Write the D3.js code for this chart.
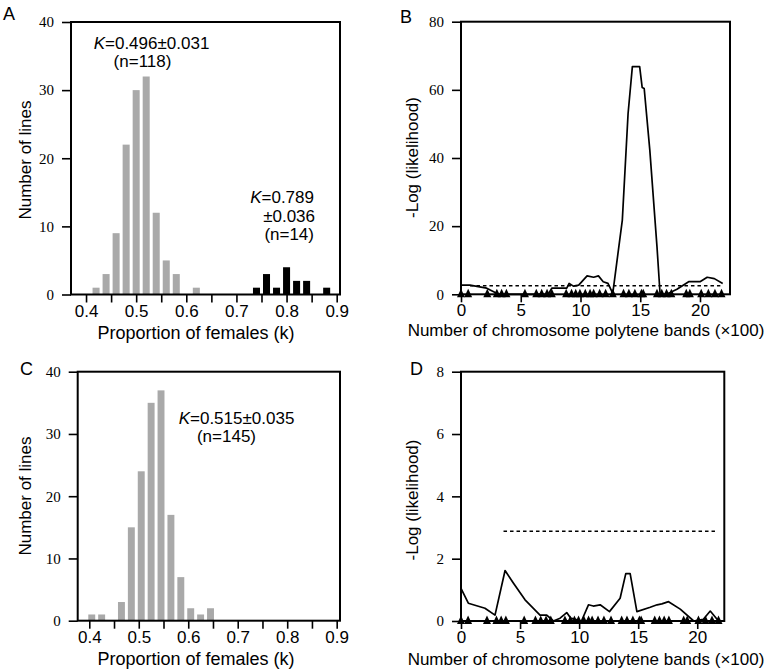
<!DOCTYPE html>
<html>
<head>
<meta charset="utf-8">
<script src="https://cdn.jsdelivr.net/npm/d3@7"></script>
<style>
  html, body { margin: 0; padding: 0; background: #fff; }
  svg { display: block; }
</style>
</head>
<body>
<svg id="chart" width="770" height="670"></svg>
<script>
// ---------------- DATA ----------------
// Panel A: histogram of proportion of females
const binsA1 = [0.42, 0.44, 0.46, 0.48, 0.50, 0.52, 0.54, 0.56, 0.58, 0.60, 0.62];
const countsA1 = [1, 3, 9, 22, 30, 32, 12, 5, 3, 0, 1];
const binsA2 = [0.74, 0.76, 0.78, 0.80, 0.82, 0.84, 0.86, 0.88];
const countsA2 = [1, 3, 1, 4, 2, 2, 0, 1];
// Panel C
const binsC = [0.405, 0.425, 0.445, 0.465, 0.485, 0.505, 0.525, 0.545, 0.565, 0.585, 0.605, 0.625, 0.645];
const countsC = [1, 1, 0, 3, 15, 24, 35, 37, 17, 7, 2, 1, 2];
// Histogram ticks
const kTickLabels = [0.4, 0.5, 0.6, 0.7, 0.8, 0.9];
const kTicksAll = [0.4, 0.45, 0.5, 0.55, 0.6, 0.65, 0.7, 0.75, 0.8, 0.85, 0.9];
const countTicks = [0, 10, 20, 30, 40];

// Panel B: -log likelihood along chromosome
const bandsB = [0, 0.75, 2.15, 2.98, 3.2, 7.3, 7.6, 8.85, 9.05, 9.4, 9.85, 10.55, 11.1, 11.5, 11.9, 12.3, 12.7,
                13.5, 13.98, 14.34, 14.95, 15.16, 15.33, 15.8, 16.4, 16.66, 17.2, 18.07, 19.05, 20.0, 20.6, 21.2, 21.9];
const lodB = [2.7, 2.7, 1.8, 0.3, 0, 0, 1.8, 1.8, 3.2, 2.4, 2.7, 5.4, 5.0, 5.4, 3.7, 3.2, 0.3,
              21.8, 53, 66.8, 66.8, 60.7, 60.4, 42.3, 14, 0, 0, 1.5, 3.7, 3.7, 5.0, 4.6, 3.2];
const thresholdB = 2.5;
const thresholdSpanB = [0.75, 21.7];

// Panel D
const bandsD = [0, 0.62, 2.03, 2.88, 3.73, 4.43, 5.42, 6.69, 7.26, 7.82, 8.39, 8.95, 9.29, 10.2, 10.79, 11.2,
                11.78, 12.57, 13.47, 13.95, 14.32, 14.89, 16.02, 16.6, 17.0, 17.57, 18.56, 19.7, 20.5, 21.1, 21.8];
const lodD = [1.05, 0.57, 0.41, 0.19, 1.62, 1.22, 0.68, 0.19, 0.19, 0, 0.09, 0.27, 0.09, 0, 0.52, 0.48,
              0.52, 0.30, 0.73, 1.52, 1.52, 0.30, 0.44, 0.52, 0.55, 0.62, 0.38, 0, 0.05, 0.32, 0];
const thresholdD = 2.88;
const thresholdSpanD = [3.6, 21.5];

// Marker positions (x100 bands)
const markers = [0, 0.6, 2.2, 3.0, 3.4, 3.8, 5.35, 6.3, 6.75, 7.2, 7.6, 8.8, 9.25, 9.6, 9.95, 10.4, 10.8,
                 11.1, 11.6, 12.1, 12.7, 13.6, 14.05, 14.55, 15.1, 15.25, 16.4, 16.8, 17.2, 17.6, 18.85,
                 19.15, 20.1, 20.7, 21.25, 21.8];
const bandTicks = [0, 5, 10, 15, 20];
const lodTicksB = [0, 20, 40, 60, 80];
const lodTicksD = [0, 2, 4, 6, 8];

// ---------------- DRAW ----------------
const svg = d3.select("#chart");
const GRAY = "#a9a9a9";
const FS = 17;
const SANS = '"Liberation Sans", Arial, Helvetica, sans-serif';
const SERIF = '"Liberation Serif", "Times New Roman", serif';

function frame(g, x, y) {
  const [x0, x1] = x.range(), [y0, y1] = y.range();
  g.append("rect").attr("x", x0).attr("y", y1).attr("width", x1 - x0).attr("height", y0 - y1)
    .attr("fill", "none").attr("stroke", "#000").attr("stroke-width", 2);
}

function yAxis(g, y, x0, ticks) {
  const ax = g.append("g").attr("transform", `translate(${x0},0)`)
    .call(d3.axisLeft(y).tickValues(ticks).tickSize(9).tickPadding(8).tickFormat(d3.format("d")));
  ax.select(".domain").remove();
  ax.selectAll(".tick line").attr("stroke", "#000").attr("stroke-width", 1.6);
  ax.selectAll("text").attr("font-size", 15).attr("fill", "#000").attr("font-family", SERIF);
}

function xAxis(g, x, y0, allTicks, labelTicks, fmt) {
  const ax1 = g.append("g").attr("transform", `translate(0,${y0})`)
    .call(d3.axisBottom(x).tickValues(allTicks).tickSize(8).tickFormat(""));
  ax1.select(".domain").remove();
  ax1.selectAll(".tick line").attr("stroke", "#000").attr("stroke-width", 1.6);
  const ax2 = g.append("g").attr("transform", `translate(0,${y0})`)
    .call(d3.axisBottom(x).tickValues(labelTicks).tickSize(0).tickPadding(10).tickFormat(fmt));
  ax2.select(".domain").remove();
  ax2.selectAll("text").attr("font-size", 17).attr("fill", "#000").attr("font-family", SANS);
}

function label(g, txt, x, y, opts = {}) {
  const t = g.append("text").attr("x", x).attr("y", y)
    .attr("font-family", SANS)
    .attr("font-size", opts.fs || FS).attr("text-anchor", opts.anchor || "middle").attr("fill", "#000");
  if (opts.rotate) t.attr("transform", `rotate(-90,${x},${y})`);
  return t.text(txt);
}

function kLabel(g, rest, x, y, anchor) {
  const t = g.append("text").attr("x", x).attr("y", y)
    .attr("font-family", SANS)
    .attr("font-size", FS).attr("text-anchor", anchor).attr("fill", "#000");
  t.append("tspan").attr("font-style", "italic").text("K");
  t.append("tspan").text(rest);
}

function histogram(g, x, y, bins, counts, color, widthUnits) {
  const w = x(bins[0] + widthUnits) - x(bins[0]);
  g.selectAll(null).data(bins.map((b, i) => ({ b, c: counts[i] })).filter(d => d.c > 0))
    .enter().append("rect")
    .attr("x", d => x(d.b) - w / 2).attr("width", w)
    .attr("y", d => y(d.c)).attr("height", d => y(0) - y(d.c))
    .attr("fill", color);
}

function lineChart(g, x, y, bands, vals, thr, span) {
  g.append("line").attr("x1", x(span[0])).attr("x2", x(span[1]))
    .attr("y1", y(thr)).attr("y2", y(thr))
    .attr("stroke", "#000").attr("stroke-width", 1.6).attr("stroke-dasharray", "3.5,3");
  const line = d3.line().x(d => x(d[0])).y(d => y(d[1]));
  g.append("path").datum(bands.map((b, i) => [b, vals[i]])).attr("d", line)
    .attr("fill", "none").attr("stroke", "#000").attr("stroke-width", 1.7).attr("stroke-linejoin", "round");
  const y0 = y(0);
  g.selectAll(null).data(markers).enter().append("path")
    .attr("d", d => `M${x(d) - 4},${y0 + 3} L${x(d)},${y0 - 5.5} L${x(d) + 4},${y0 + 3} Z`)
    .attr("fill", "#000");
}

// ---- Panel A ----
{
  const g = svg.append("g");
  const x = d3.scaleLinear().domain([0.37, 0.9066]).range([71, 340]);
  const y = d3.scaleLinear().domain([0, 40]).range([294.5, 22]);
  histogram(g, x, y, binsA1, countsA1, GRAY, 0.014);
  histogram(g, x, y, binsA2, countsA2, "#000", 0.014);
  frame(g, x, y);
  yAxis(g, y, 71, countTicks);
  xAxis(g, x, 294.5, kTicksAll, kTickLabels, d3.format(".1f"));
  label(g, "Proportion of females (k)", 196, 338.5, { fs: 18 });
  label(g, "Number of lines", 31, 160, { rotate: true });
  kLabel(g, "=0.496\u00b10.031", 151.5, 49, "middle");
  label(g, "(n=118)", 142.5, 66.5);
  kLabel(g, "=0.789", 314, 203, "end");
  label(g, "\u00b10.036", 315, 221.5, { anchor: "end" });
  label(g, "(n=14)", 314, 239.5, { anchor: "end" });
  label(g, "A", 3, 20, { anchor: "start", fs: 18 });
}

// ---- Panel B ----
{
  const g = svg.append("g");
  const x = d3.scaleLinear().domain([0, 22.51]).range([461, 730]);
  const y = d3.scaleLinear().domain([0, 80]).range([294.3, 21.7]);
  lineChart(g, x, y, bandsB, lodB, thresholdB, thresholdSpanB);
  frame(g, x, y);
  yAxis(g, y, 461, lodTicksB);
  xAxis(g, x, 294.3, bandTicks, bandTicks, d3.format("d"));
  label(g, "Number of chromosome polytene bands (\u00d7100)", 586, 336);
  label(g, "-Log (likelihood)", 418, 157.5, { rotate: true });
  label(g, "B", 400, 23, { anchor: "start", fs: 18 });
}

// ---- Panel C ----
{
  const g = svg.append("g");
  const x = d3.scaleLinear().domain([0.3766, 0.9067]).range([77.7, 340]);
  const y = d3.scaleLinear().domain([0, 40]).range([620.7, 371.7]);
  histogram(g, x, y, binsC, countsC, GRAY, 0.014);
  frame(g, x, y);
  yAxis(g, y, 77.7, countTicks);
  xAxis(g, x, 620.7, kTicksAll, kTickLabels, d3.format(".1f"));
  label(g, "Proportion of females (k)", 196, 664.5, { fs: 18 });
  label(g, "Number of lines", 31, 496, { rotate: true });
  kLabel(g, "=0.515\u00b10.035", 236.5, 424, "middle");
  label(g, "(n=145)", 226.5, 442);
  label(g, "C", 20, 375, { anchor: "start", fs: 18 });
}

// ---- Panel D ----
{
  const g = svg.append("g");
  const x = d3.scaleLinear().domain([0, 22.29]).range([461, 724.3]);
  const y = d3.scaleLinear().domain([0, 8]).range([621, 371.7]);
  lineChart(g, x, y, bandsD, lodD, thresholdD, thresholdSpanD);
  frame(g, x, y);
  yAxis(g, y, 461, lodTicksD);
  xAxis(g, x, 621, bandTicks, bandTicks, d3.format("d"));
  label(g, "Number of chromosome polytene bands (\u00d7100)", 586, 664.5);
  label(g, "-Log (likelihood)", 418, 500, { rotate: true });
  label(g, "D", 410, 375, { anchor: "start", fs: 18 });
}
</script>
</body>
</html>
